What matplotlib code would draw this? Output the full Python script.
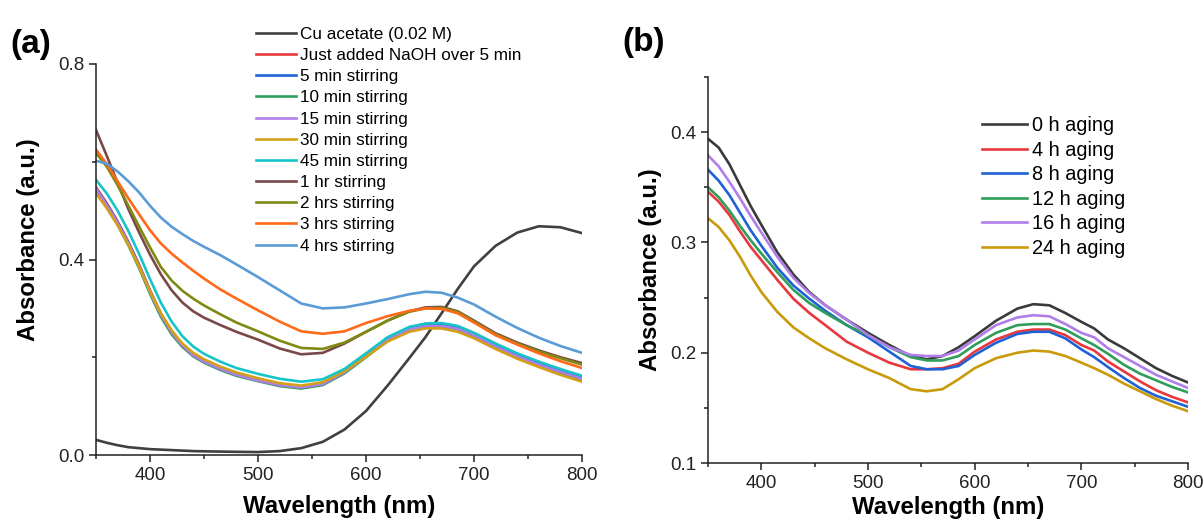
import matplotlib
matplotlib.use("Agg")
import matplotlib.pyplot as plt
from matplotlib.ticker import MultipleLocator

plt.rcParams['font.family'] = ['Liberation Sans', 'DejaVu Sans']

# ---- panel (a): stirring time series ----
wl_a = [350, 360, 370, 380, 390, 400, 410, 420, 430, 440, 450, 465, 480, 500, 520,
        540, 560, 580, 600, 620, 640, 655, 670, 685, 700, 720, 740, 760, 780, 800]

cu_acetate = [0.031, 0.025, 0.020, 0.016, 0.014, 0.012, 0.011, 0.010, 0.009, 0.008,
              0.0075, 0.007, 0.0065, 0.006, 0.008, 0.014, 0.027, 0.052, 0.090, 0.142,
              0.198, 0.241, 0.290, 0.340, 0.386, 0.428, 0.455, 0.468, 0.466, 0.454]
just_added = [0.548, 0.515, 0.478, 0.436, 0.389, 0.337, 0.290, 0.254, 0.226, 0.207,
              0.194, 0.179, 0.167, 0.155, 0.145, 0.140, 0.147, 0.171, 0.204, 0.238,
              0.260, 0.267, 0.268, 0.262, 0.249, 0.227, 0.207, 0.190, 0.174, 0.161]
stir_5min = [0.545, 0.512, 0.476, 0.434, 0.387, 0.335, 0.288, 0.252, 0.225, 0.206,
             0.193, 0.178, 0.166, 0.154, 0.144, 0.139, 0.146, 0.171, 0.205, 0.239,
             0.261, 0.268, 0.268, 0.262, 0.248, 0.225, 0.204, 0.187, 0.171, 0.158]
stir_10min = [0.540, 0.507, 0.471, 0.429, 0.382, 0.330, 0.283, 0.247, 0.221, 0.202,
              0.189, 0.174, 0.162, 0.151, 0.141, 0.136, 0.143, 0.167, 0.200, 0.234,
              0.255, 0.262, 0.263, 0.257, 0.243, 0.221, 0.200, 0.183, 0.168, 0.154]
stir_15min = [0.545, 0.511, 0.475, 0.433, 0.386, 0.334, 0.287, 0.251, 0.224, 0.204,
              0.191, 0.176, 0.164, 0.152, 0.143, 0.138, 0.145, 0.169, 0.202, 0.236,
              0.257, 0.264, 0.264, 0.258, 0.245, 0.222, 0.202, 0.185, 0.170, 0.156]
stir_30min = [0.535, 0.505, 0.470, 0.430, 0.385, 0.335, 0.290, 0.255, 0.228, 0.209,
              0.196, 0.181, 0.169, 0.157, 0.147, 0.142, 0.149, 0.171, 0.201, 0.232,
              0.252, 0.259, 0.259, 0.252, 0.239, 0.217, 0.197, 0.180, 0.164, 0.150]
stir_45min = [0.563, 0.535, 0.500, 0.458, 0.411, 0.360, 0.312, 0.273, 0.243, 0.222,
              0.207, 0.191, 0.178, 0.166, 0.156, 0.150, 0.155, 0.176, 0.208, 0.241,
              0.262, 0.269, 0.270, 0.264, 0.250, 0.228, 0.208, 0.191, 0.176, 0.162]
stir_1hr = [0.665, 0.612, 0.557, 0.503, 0.455, 0.410, 0.370, 0.337, 0.312, 0.294,
            0.281, 0.266, 0.252, 0.236, 0.218, 0.206, 0.209, 0.228, 0.252, 0.275,
            0.294, 0.302, 0.303, 0.294, 0.275, 0.249, 0.230, 0.214, 0.200, 0.188]
stir_2hr = [0.618, 0.590, 0.552, 0.510, 0.467, 0.425, 0.385, 0.357, 0.336, 0.320,
            0.306, 0.288, 0.271, 0.253, 0.234, 0.219, 0.217, 0.230, 0.252, 0.275,
            0.293, 0.300, 0.301, 0.293, 0.273, 0.247, 0.228, 0.212, 0.198, 0.185]
stir_3hr = [0.625, 0.595, 0.560, 0.525, 0.492, 0.460, 0.433, 0.412, 0.394, 0.377,
            0.361, 0.339, 0.320, 0.296, 0.273, 0.253, 0.248, 0.253, 0.270, 0.284,
            0.295, 0.300, 0.299, 0.290, 0.271, 0.245, 0.226, 0.208, 0.192, 0.178]
stir_4hr = [0.602, 0.596, 0.580, 0.560, 0.537, 0.510, 0.486, 0.467, 0.452, 0.438,
            0.426, 0.409, 0.390, 0.364, 0.337, 0.310, 0.300, 0.302, 0.310, 0.319,
            0.329, 0.334, 0.332, 0.322, 0.308, 0.283, 0.260, 0.240, 0.223, 0.209]

labels_a = ["Cu acetate (0.02 M)", "Just added NaOH over 5 min", "5 min stirring",
            "10 min stirring", "15 min stirring", "30 min stirring", "45 min stirring",
            "1 hr stirring", "2 hrs stirring", "3 hrs stirring", "4 hrs stirring"]
colors_a = ["#404040", "#e8383d", "#1f62d6", "#2e9e5b", "#b07ee8", "#d4a017",
            "#17c4c8", "#7a4848", "#7f8a12", "#ff6a1a", "#5b9bd5"]
series_a = [cu_acetate, just_added, stir_5min, stir_10min, stir_15min, stir_30min,
            stir_45min, stir_1hr, stir_2hr, stir_3hr, stir_4hr]

# ---- panel (b): aging series ----
wl_b = [350, 360, 370, 380, 390, 400, 415, 430, 445, 460, 480, 500, 520, 540, 555, 570,
        585, 600, 620, 640, 655, 670, 685, 700, 712, 725, 740, 755, 770, 785, 800]

aging_0h = [0.394, 0.386, 0.371, 0.352, 0.333, 0.316, 0.291, 0.271, 0.255, 0.243,
            0.230, 0.218, 0.207, 0.197, 0.194, 0.197, 0.205, 0.215, 0.229, 0.240,
            0.244, 0.243, 0.236, 0.228, 0.222, 0.212, 0.204, 0.195, 0.186, 0.179, 0.173]
aging_4h = [0.346, 0.337, 0.325, 0.310, 0.296, 0.284, 0.266, 0.249, 0.236, 0.225,
            0.210, 0.200, 0.191, 0.185, 0.185, 0.186, 0.190, 0.201, 0.212, 0.219,
            0.221, 0.221, 0.216, 0.207, 0.202, 0.192, 0.183, 0.174, 0.166, 0.160, 0.155]
aging_8h = [0.366, 0.356, 0.343, 0.327, 0.311, 0.297, 0.277, 0.261, 0.249, 0.238,
            0.225, 0.214, 0.201, 0.188, 0.185, 0.185, 0.188, 0.198, 0.209, 0.217,
            0.219, 0.219, 0.213, 0.203, 0.196, 0.187, 0.177, 0.168, 0.161, 0.156, 0.151]
aging_12h = [0.350, 0.341, 0.329, 0.315, 0.302, 0.290, 0.273, 0.257, 0.245, 0.236,
             0.225, 0.216, 0.205, 0.196, 0.193, 0.193, 0.197, 0.207, 0.218, 0.225,
             0.226, 0.226, 0.221, 0.213, 0.207, 0.199, 0.189, 0.181, 0.175, 0.169, 0.164]
aging_16h = [0.379, 0.369, 0.355, 0.340, 0.324, 0.309, 0.287, 0.268, 0.254, 0.243,
             0.230, 0.216, 0.205, 0.198, 0.197, 0.197, 0.202, 0.212, 0.225, 0.232,
             0.234, 0.233, 0.226, 0.218, 0.214, 0.204, 0.196, 0.188, 0.180, 0.174, 0.168]
aging_24h = [0.322, 0.314, 0.302, 0.287, 0.270, 0.255, 0.237, 0.223, 0.213, 0.204,
             0.194, 0.185, 0.177, 0.167, 0.165, 0.167, 0.176, 0.186, 0.195, 0.200,
             0.202, 0.201, 0.197, 0.191, 0.186, 0.180, 0.172, 0.165, 0.158, 0.152, 0.147]

labels_b = ["0 h aging", "4 h aging", "8 h aging", "12 h aging", "16 h aging", "24 h aging"]
colors_b = ["#3a3a3a", "#e8383d", "#1f62d6", "#2e9e5b", "#b07ee8", "#c99a0a"]
series_b = [aging_0h, aging_4h, aging_8h, aging_12h, aging_16h, aging_24h]


W, H = 1203, 519
fig = plt.figure(figsize=(W / 100, H / 100), dpi=100)

def px_axes(left, right, top, bottom):
    return fig.add_axes([left / W, 1 - bottom / H, (right - left) / W, (bottom - top) / H])

def style_axes(ax, xpad):
    for side in ("top", "right"):
        ax.spines[side].set_visible(False)
    for side in ("left", "bottom"):
        ax.spines[side].set_linewidth(1.1)
        ax.spines[side].set_color("#222222")
    ax.tick_params(which="major", direction="out", length=5, width=1.1,
                   labelsize=13.5, colors="#222222")
    ax.tick_params(which="minor", direction="out", length=3, width=1.1, colors="#222222")
    ax.xaxis.set_major_locator(MultipleLocator(100))
    ax.xaxis.set_minor_locator(MultipleLocator(50))
    ax.set_xlabel("Wavelength (nm)", fontsize=17.3, fontweight="bold", labelpad=xpad)
    ax.set_ylabel("Absorbance (a.u.)", fontsize=17.3, fontweight="bold", labelpad=6)

ax1 = px_axes(96, 582, 64, 455)
for y, c, lab in zip(series_a, colors_a, labels_a):
    ax1.plot(wl_a, y, color=c, lw=1.9, label=lab)
ax1.set_xlim(350, 800)
ax1.set_ylim(0, 0.8)
ax1.yaxis.set_major_locator(MultipleLocator(0.4))
ax1.yaxis.set_minor_locator(MultipleLocator(0.2))
style_axes(ax1, 8)
ax1.yaxis.set_label_coords(-0.115, 0.55)
ax1.legend(loc="upper left", bbox_to_anchor=(256 / W, 1 - 27 / H),
           bbox_transform=fig.transFigure, frameon=False, fontsize=12.3,
           borderpad=0, borderaxespad=0, labelspacing=0.36,
           handlelength=2.35, handletextpad=0.25)
fig.text(10 / W, 1 - 45 / H, "(a)", fontsize=24, fontweight="bold", va="center")

ax2 = px_axes(708, 1188, 77, 463)
for y, c, lab in zip(series_b, colors_b, labels_b):
    ax2.plot(wl_b, y, color=c, lw=1.9, label=lab)
ax2.set_xlim(350, 800)
ax2.set_ylim(0.1, 0.45)
ax2.yaxis.set_major_locator(MultipleLocator(0.1))
ax2.yaxis.set_minor_locator(MultipleLocator(0.05))
style_axes(ax2, 3)
ax2.legend(loc="upper left", bbox_to_anchor=(982 / W, 1 - 116 / H),
           bbox_transform=fig.transFigure, frameon=False, fontsize=14.3,
           borderpad=0, borderaxespad=0, labelspacing=0.28,
           handlelength=2.25, handletextpad=0.25)
fig.text(622 / W, 1 - 42 / H, "(b)", fontsize=24, fontweight="bold", va="center")

fig.savefig("out.png", dpi=100)
